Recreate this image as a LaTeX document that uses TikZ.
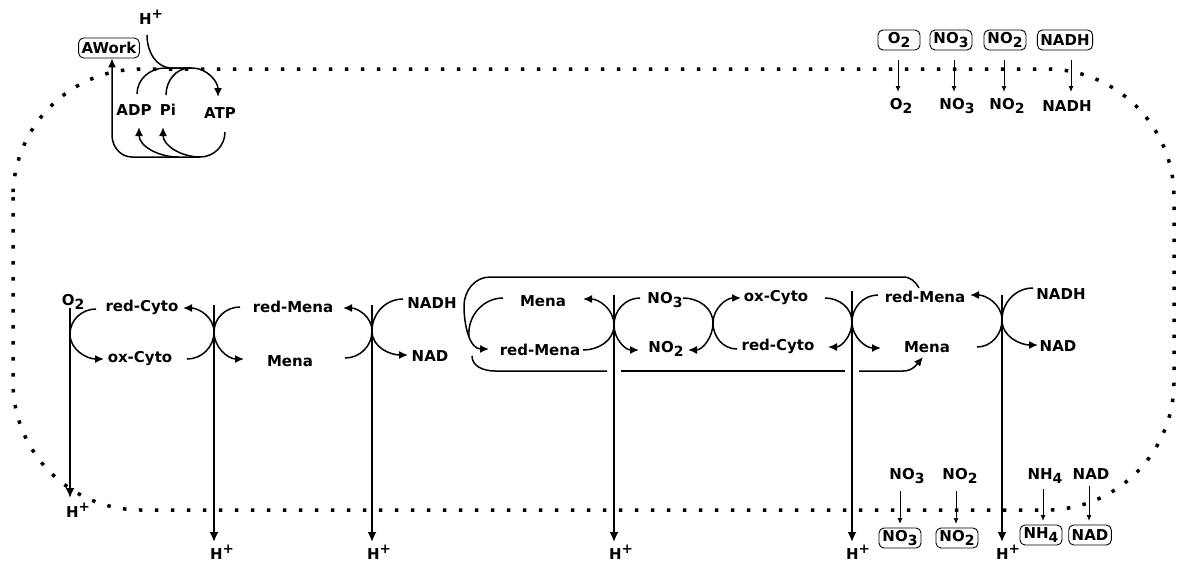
\documentclass[tikz,border=0pt]{standalone}
\usepackage{fontspec}
\setmainfont{DejaVu Sans}
\usetikzlibrary{arrows.meta}
\newcommand\dsub[1]{\raisebox{-0.22em}{\fontsize{14}{14}\selectfont #1}}
\newcommand\hp{H\raisebox{6pt}{\fontsize{13.5}{13.5}\selectfont +}}
\begin{document}
\begin{tikzpicture}[x=1pt,y=-1pt,
  lbl/.style={font=\bfseries\fontsize{15}{18}\selectfont, inner sep=0pt},
  bx/.style={lbl, draw, rounded corners=5pt, line width=0.9pt, inner xsep=3pt, minimum width=42pt, minimum height=20pt},
  ln/.style={line width=1.5pt},
  arr/.style={ln, -{Latex[length=9pt,width=8pt]}},
  vline/.style={line width=1.8pt, -{Latex[length=10pt,width=9pt]}},
  thinarr/.style={line width=1pt, -{Latex[length=6pt,width=5pt]}},
  membrane/.style={line width=3.5pt, line cap=butt, dash pattern=on 3.5pt off 12.5pt}]
\useasboundingbox (0,0) rectangle (1185,563);
\draw[membrane, rounded corners=128pt] (13,69) rectangle (1174,510);

% ---- ATP synthase (top left)
\node[lbl] (hTop) at (151,17) {\hp};
\node[bx, minimum width=0pt] (awork) at (109,48) {AWork};
\node[lbl] (adp) at (134,110) {ADP};
\node[lbl] (pi) at (168,110) {Pi};
\node[lbl] (atp) at (220,113) {ATP};
\draw[ln] (147,35) to[out=-90,in=180] (172,68) -- (192,68);
\draw[arr] (137,94) to[out=90,in=180] (165,68) -- (192,68) to[out=0,in=90] (218,97);
\draw[ln] (166,95) to[out=90,in=180] (190,68);
\draw[arr] (225,132) to[out=-90,in=0] (200,157) -- (132,157) to[out=180,in=-90] (112,135) -- (awork.south -| 112,0);
\draw[arr] (178,157) to[out=180,in=-90] (139,127);
\draw[arr] (200,157) to[out=180,in=-90] (163,127);

% ---- top right uptake
\node[bx] (bO2t) at (899,40) {O\dsub{2}};
\node[bx] (bNO3t) at (951,40) {NO\dsub{3}};
\node[bx] (bNO2t) at (1005,40) {NO\dsub{2}};
\node[bx] (bNADHt) at (1065,40) {NADH};
\node[lbl] (lO2t) at (901,106) {O\dsub{2}};
\node[lbl] (lNO3t) at (957,106) {NO\dsub{3}};
\node[lbl] (lNO2t) at (1007,106) {NO\dsub{2}};
\node[lbl] (lNADHt) at (1067,106) {NADH};
\draw[thinarr] (898,60) -- (898,92);
\draw[thinarr] (954,60) -- (954,92);
\draw[thinarr] (1004,60) -- (1004,92);
\draw[thinarr] (1071,60) -- (1071,92);

% ---- chain labels
\node[lbl] (o2) at (73,302) {O\dsub{2}};
\node[lbl] (redcyto1) at (142,307) {red-Cyto};
\node[lbl] (oxcyto1) at (140,359) {ox-Cyto};
\node[lbl] (redmena1) at (293,307) {red-Mena};
\node[lbl] (mena1) at (290,361) {Mena};
\node[lbl] (nadh1) at (432,303) {NADH};
\node[lbl] (nad1) at (430,356) {NAD};
\node[lbl] (mena2) at (543,301) {Mena};
\node[lbl] (redmena2) at (540,350) {red-Mena};
\node[lbl] (no3) at (665,300) {NO\dsub{3}};
\node[lbl] (no2) at (666,349) {NO\dsub{2}};
\node[lbl] (oxcyto2) at (776,298) {ox-Cyto};
\node[lbl] (redcyto2) at (778,346) {red-Cyto};
\node[lbl] (redmena3) at (925,297) {red-Mena};
\node[lbl] (mena3) at (927,347) {Mena};
\node[lbl] (nadh2) at (1061,294) {NADH};
\node[lbl] (nad2) at (1058,346) {NAD};

% ---- big loop
\draw[arr] (919,288) to[out=120,in=0] (903,277) -- (490,277) to[out=180,in=90] (464,306) to[out=-90,in=180] (489,349);
\draw[ln] (503,298) to[out=180,in=95] (469,336);
\draw[ln] (472,356) to[out=-90,in=180] (495,371) -- (607,371);
\draw[ln] (621,371) -- (845,371);
\draw[arr] (859,371) -- (903,371) to[out=0,in=-130] (923,357);

% ---- proton pumps
\coordinate (p1) at (70,308);
\coordinate (p2) at (214,305);
\coordinate (p3) at (372,305);
\coordinate (p4) at (614,295);
\coordinate (p5) at (852,291);
\coordinate (p6) at (1002,295);
\node[lbl] (h1) at (78,510) {\hp};
\node[lbl] (h2) at (222,552) {\hp};
\node[lbl] (h3) at (379,552) {\hp};
\node[lbl] (h4) at (621,552) {\hp};
\node[lbl] (h5) at (858,552) {\hp};
\node[lbl] (h6) at (1008,552) {\hp};
\draw[vline] (p1) -- (70,498);
\draw[vline] (p2) -- (214,542);
\draw[vline] (p3) -- (372,542);
\draw[vline] (p4) -- (614,542);
\draw[vline] (p5) -- (852,542);
\draw[vline] (p6) -- (1002,542);

% ---- junction arcs
\draw[arr] (96,309) to[out=180,in=90] (70,334) to[out=-90,in=180] (104,359);
\draw[arr] (187,359) to[out=0,in=-90] (214,332) to[out=90,in=0] (183,308);
\draw[arr] (240,307) to[out=180,in=90] (214,332) to[out=-90,in=180] (244,359);
\draw[arr] (345,358) to[out=0,in=-90] (372,331) to[out=90,in=0] (343,308);
\draw[arr] (403,299) to[out=180,in=90] (372,331) to[out=-90,in=180] (408,355);
\draw[arr] (583,350) to[out=0,in=-90] (614,325) to[out=90,in=0] (583,299);
\draw[arr] (640,298) to[out=180,in=90] (614,325) to[out=-90,in=180] (639,350);
\draw[arr] (683,298) to[out=0,in=90] (713,323) to[out=-90,in=0] (688,350);
\draw[arr] (737,349) to[out=180,in=-90] (713,323) to[out=90,in=180] (741,298);
\draw[arr] (825,298) to[out=0,in=90] (852,322) to[out=-90,in=0] (828,347);
\draw[arr] (878,295) to[out=180,in=90] (852,322) to[out=-90,in=180] (881,348);
\draw[arr] (977,347) to[out=0,in=-90] (1002,320) to[out=90,in=0] (970,295);
\draw[arr] (1033,288) to[out=180,in=90] (1002,320) to[out=-90,in=180] (1038,345);

% ---- bottom right excretion
\node[lbl] (lNO3b) at (907,476) {NO\dsub{3}};
\node[lbl] (lNO2b) at (960,476) {NO\dsub{2}};
\node[lbl] (lNH4b) at (1045,476) {NH\dsub{4}};
\node[lbl] (lNADb) at (1091,474) {NAD};
\node[bx] (bNO3b) at (900,538) {NO\dsub{3}};
\node[bx] (bNO2b) at (957,538) {NO\dsub{2}};
\node[bx] (bNH4b) at (1041,535) {NH\dsub{4}};
\node[bx, minimum width=40pt] (bNADb) at (1090,535) {NAD};
\draw[thinarr] (900,491) -- (900,524);
\draw[thinarr] (956,491) -- (956,524);
\draw[thinarr] (1043,489) -- (1043,521);
\draw[thinarr] (1089,486) -- (1089,521);
\end{tikzpicture}
\end{document}
